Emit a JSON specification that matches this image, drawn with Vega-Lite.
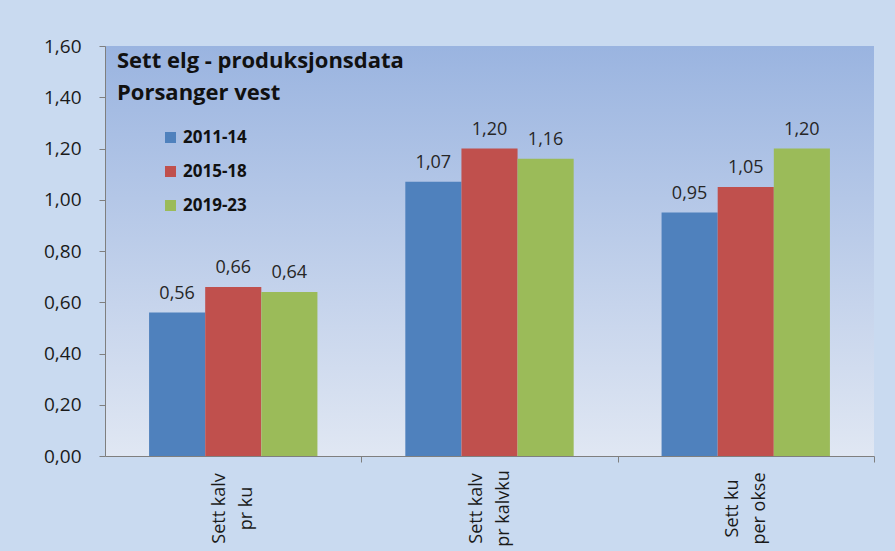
{
  "$schema": "https://vega.github.io/schema/vega-lite/v6.json",
  "width": 769,
  "height": 410,
  "autosize": {"type": "none"},
  "padding": {"left": 105, "top": 46, "right": 21, "bottom": 95},
  "background": "#c9daf0",
  "config": {
    "locale": {"number": {"decimal": ",", "thousands": " ", "grouping": [3], "currency": ["", " kr"]}},
    "view": {"stroke": null, "fill": {"gradient": "linear", "x1": 0, "y1": 0, "x2": 0, "y2": 1, "stops": [{"offset": 0, "color": "#9ab4e0"}, {"offset": 1, "color": "#e0e7f3"}]}},
    "font": "Open Sans"
  },
  "title": {
    "text": ["Sett elg - produksjonsdata", "Porsanger vest"],
    "anchor": "start",
    "frame": "group",
    "fontSize": 22,
    "fontWeight": "bold",
    "color": "#111111",
    "lineHeight": 32,
    "dx": 12,
    "offset": -68
  },
  "data": {
    "values": [
      {"kategori": "Sett kalv|pr ku", "periode": "2011-14", "verdi": 0.56},
      {"kategori": "Sett kalv|pr ku", "periode": "2015-18", "verdi": 0.66},
      {"kategori": "Sett kalv|pr ku", "periode": "2019-23", "verdi": 0.64},
      {"kategori": "Sett kalv|pr kalvku", "periode": "2011-14", "verdi": 1.07},
      {"kategori": "Sett kalv|pr kalvku", "periode": "2015-18", "verdi": 1.20},
      {"kategori": "Sett kalv|pr kalvku", "periode": "2019-23", "verdi": 1.16},
      {"kategori": "Sett ku|per okse", "periode": "2011-14", "verdi": 0.95},
      {"kategori": "Sett ku|per okse", "periode": "2015-18", "verdi": 1.05},
      {"kategori": "Sett ku|per okse", "periode": "2019-23", "verdi": 1.20}
    ]
  },
  "encoding": {
    "x": {
      "field": "kategori",
      "type": "nominal",
      "sort": ["Sett kalv|pr ku", "Sett kalv|pr kalvku", "Sett ku|per okse"],
      "scale": {"paddingInner": 0.343, "paddingOuter": 0.172},
      "axis": {
        "title": null,
        "labelAngle": -90,
        "labelAlign": "center",
        "labelBaseline": "middle",
        "labelExpr": "split(datum.label, '|')",
        "bandPosition": 1.264,
        "ticks": true,
        "tickSize": 6,
        "tickColor": "#7f7f7f",
        "domainColor": "#7f7f7f",
        "labelPadding": 46,
        "labelOffset": -13,
        "labelFontSize": 18,
        "labelColor": "#1a1a1a",
        "labelLineHeight": 27
      }
    },
    "xOffset": {
      "field": "periode",
      "type": "nominal",
      "sort": ["2011-14", "2015-18", "2019-23"],
      "scale": {"paddingInner": 0, "paddingOuter": 0}
    },
    "y": {
      "field": "verdi",
      "type": "quantitative",
      "scale": {"domain": [0, 1.6], "nice": false},
      "axis": {
        "title": null,
        "values": [0, 0.2, 0.4, 0.6, 0.8, 1.0, 1.2, 1.4, 1.6],
        "format": ".2f",
        "grid": false,
        "tickSize": 6,
        "labelPadding": 18,
        "labelFontSize": 19,
        "tickColor": "#7f7f7f",
        "domainColor": "#7f7f7f",
        "labelColor": "#1a1a1a"
      }
    }
  },
  "layer": [
    {
      "mark": {"type": "bar"},
      "encoding": {
        "color": {
          "field": "periode",
          "type": "nominal",
          "sort": ["2011-14", "2015-18", "2019-23"],
          "scale": {"range": ["#4f81bd", "#c0504d", "#9bbb59"]},
          "legend": {
            "title": null,
            "orient": "none",
            "legendX": 57,
            "legendY": 83,
            "symbolType": "square",
            "symbolSize": 121,
            "symbolStrokeWidth": 0,
            "labelFontSize": 17,
            "labelFontWeight": "bold",
            "labelColor": "#111111",
            "rowPadding": 16,
            "labelOffset": 4
          }
        }
      }
    },
    {
      "mark": {"type": "text", "baseline": "alphabetic", "dy": -14, "fontSize": 18, "color": "#262626"},
      "encoding": {
        "text": {"field": "verdi", "type": "quantitative", "format": ".2f"}
      }
    }
  ]
}
